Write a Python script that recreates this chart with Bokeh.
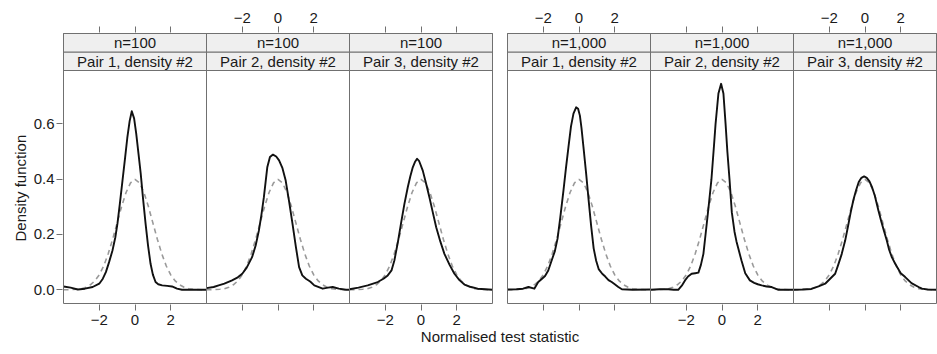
from bokeh.plotting import figure
from bokeh.models import Range1d, LinearAxis, FixedTicker, Title, PrintfTickFormatter
from bokeh.models import Label
from bokeh.embed import file_html
from bokeh.resources import INLINE

# ---------------- data ----------------
n_labels = ["n=100", "n=100", "n=100", "n=1,000", "n=1,000", "n=1,000"]
pair_labels = ["Pair 1, density #2", "Pair 2, density #2", "Pair 3, density #2",
               "Pair 1, density #2", "Pair 2, density #2", "Pair 3, density #2"]
x_tick_values = [-2, 0, 2]
x_tick_text = ["\u22122", "0", "2"]
y_tick_values = [0.0, 0.2, 0.4, 0.6]
top_labelled = [False, True, False, True, False, True]
bottom_labelled = [True, False, True, False, True, False]
x_axis_label = "Normalised test statistic"
y_axis_label = "Density function"

# dashed reference density (same in every panel)
ref_x = [-4.0, -3.75, -3.5, -3.25, -3.0, -2.75, -2.5, -2.25, -2.0, -1.75, -1.5, -1.25, -1.0,
         -0.75, -0.5, -0.25, 0.0, 0.25, 0.5, 0.75, 1.0, 1.25, 1.5, 1.75, 2.0, 2.25, 2.5,
         2.75, 3.0, 3.25, 3.5, 3.75, 4.0]
ref_y = [0.0, 0.0, 0.001, 0.002, 0.004, 0.009, 0.018, 0.032, 0.054, 0.086, 0.13, 0.183, 0.242,
         0.301, 0.352, 0.387, 0.399, 0.387, 0.352, 0.301, 0.242, 0.183, 0.13, 0.086, 0.054, 0.032,
         0.018, 0.009, 0.004, 0.002, 0.001, 0.0, 0.0]

# n=100, pair 1
p1_x = [-4.0, -3.6, -3.2, -2.8, -2.37, -2.0, -1.8, -1.63, -1.45, -1.26, -1.1, -0.98, -0.85, -0.7,
        -0.55, -0.43, -0.3, -0.18, -0.05, 0.07, 0.2, 0.32, 0.45, 0.59, 0.73, 0.87, 1.0, 1.15, 1.3,
        1.52, 1.8, 2.07, 2.35, 2.63, 3.0, 3.5, 4.0]
p1_y = [0.012, 0.008, 0.001, 0.004, 0.01, 0.022, 0.04, 0.064, 0.1, 0.142, 0.19, 0.24, 0.31, 0.395,
        0.48, 0.55, 0.61, 0.646, 0.62, 0.564, 0.49, 0.42, 0.33, 0.24, 0.16, 0.094, 0.055, 0.028, 0.02,
        0.016, 0.014, 0.012, 0.004, 0.0, 0.0, 0.0, 0.0]
# n=100, pair 2
p2_x = [-4.0, -3.6, -3.32, -3.0, -2.57, -2.25, -2.0, -1.75, -1.45, -1.25, -1.07, -0.93, -0.79, -0.6,
        -0.45, -0.28, -0.1, 0.06, 0.25, 0.43, 0.62, 0.81, 1.0, 1.18, 1.36, 1.56, 1.8, 2.03, 2.5, 2.8,
        3.06, 3.4, 3.8, 4.0]
p2_y = [0.006, 0.01, 0.016, 0.022, 0.034, 0.045, 0.058, 0.08, 0.118, 0.16, 0.214, 0.27, 0.335, 0.443,
        0.48, 0.489, 0.482, 0.468, 0.44, 0.395, 0.32, 0.239, 0.155, 0.082, 0.052, 0.04, 0.03, 0.016,
        0.004, 0.008, 0.01, 0.004, 0.0, 0.0]
# n=100, pair 3
p3_x = [-4.0, -3.5, -2.98, -2.42, -2.1, -1.86, -1.65, -1.49, -1.3, -1.12, -0.93, -0.74, -0.6, -0.46,
        -0.34, -0.22, -0.1, 0.1, 0.28, 0.47, 0.66, 0.85, 1.08, 1.31, 1.6, 1.87, 2.15, 2.43, 2.8, 3.17,
        3.6, 4.0]
p3_y = [0.002, 0.008, 0.016, 0.028, 0.04, 0.052, 0.07, 0.106, 0.17, 0.239, 0.31, 0.371, 0.41, 0.443,
        0.462, 0.474, 0.465, 0.431, 0.385, 0.335, 0.28, 0.226, 0.175, 0.13, 0.09, 0.058, 0.035, 0.019,
        0.01, 0.004, 0.002, 0.0]
# n=1,000, pair 1
p4_x = [-4.0, -3.5, -3.13, -2.83, -2.5, -2.28, -2.1, -1.9, -1.72, -1.53, -1.35, -1.2, -1.05, -0.87,
        -0.73, -0.59, -0.45, -0.31, -0.16, -0.05, 0.05, 0.14, 0.25, 0.4, 0.54, 0.68, 0.82, 0.96, 1.1,
        1.3, 1.47, 1.65, 1.83, 2.0, 2.2, 2.4, 3.0, 4.0]
p4_y = [0.001, 0.002, 0.004, 0.01, 0.004, 0.028, 0.038, 0.05, 0.07, 0.106, 0.14, 0.185, 0.26, 0.359,
        0.44, 0.516, 0.59, 0.637, 0.66, 0.655, 0.63, 0.585, 0.516, 0.42, 0.323, 0.23, 0.15, 0.105, 0.075,
        0.058, 0.048, 0.035, 0.028, 0.02, 0.01, 0.002, 0.0, 0.001]
# n=1,000, pair 2
p5_x = [-4.0, -3.5, -3.0, -2.7, -2.45, -2.25, -2.07, -1.9, -1.7, -1.5, -1.32, -1.18, -1.04, -0.92,
        -0.75, -0.59, -0.45, -0.36, -0.2, -0.05, 0.08, 0.2, 0.3, 0.42, 0.55, 0.7, 0.81, 0.95, 1.09,
        1.3, 1.56, 1.8, 2.0, 2.22, 2.5, 2.78, 3.16, 3.6, 4.0]
p5_y = [0.0, 0.002, 0.002, 0.0, 0.0, 0.015, 0.034, 0.048, 0.058, 0.06, 0.062, 0.09, 0.13, 0.2,
        0.3, 0.4, 0.52, 0.6, 0.71, 0.745, 0.71, 0.6, 0.5, 0.4, 0.28, 0.21, 0.175, 0.14, 0.106,
        0.06, 0.034, 0.025, 0.02, 0.016, 0.012, 0.01, 0.0, 0.0, 0.0]
# n=1,000, pair 3
p6_x = [-4.0, -3.5, -3.0, -2.6, -2.23, -1.95, -1.67, -1.5, -1.3, -1.11, -0.95, -0.8, -0.65, -0.5,
        -0.35, -0.2, -0.05, 0.1, 0.25, 0.4, 0.55, 0.75, 0.9, 1.05, 1.22, 1.35, 1.5, 1.69, 2.0, 2.25,
        2.6, 3.0, 3.19, 3.5, 4.0]
p6_y = [0.0, 0.001, 0.003, 0.012, 0.022, 0.04, 0.058, 0.09, 0.13, 0.178, 0.23, 0.28, 0.325, 0.36,
        0.39, 0.405, 0.41, 0.405, 0.392, 0.37, 0.34, 0.287, 0.25, 0.215, 0.178, 0.145, 0.118, 0.094,
        0.06, 0.046, 0.024, 0.01, 0.004, 0.001, 0.0]

panel_x = [p1_x, p2_x, p3_x, p4_x, p5_x, p6_x]
panel_y = [p1_y, p2_y, p3_y, p4_y, p5_y, p6_y]

# ---------------- layout / style ----------------
FONT = "Liberation Sans"
FS = "15px"
TEXT_C = "#1a1a1a"
BORDER_C = "#707070"
STRIP_FILL = "#efefef"
SOLID_C = "#111111"
DASH_C = "#9a9a9a"

PANEL_W = 143
GAP = 15
PAD = 1
X_LIM = (-4.0, 4.0)
Y_LIM = (-0.0496, 0.7932)
PANEL_H = 233
STRIP_H = 18.5
N_STRIPS = 2
BORDER_L, BORDER_T, BORDER_B = 62, 32, 50

px_x = PANEL_W / (X_LIM[1] - X_LIM[0])
px_y = PANEL_H / (Y_LIM[1] - Y_LIM[0])

lefts = []
pos = PAD
for k in range(6):
    lefts.append(pos)
    pos += PANEL_W + (GAP if k == 2 else 0)
frame_w = int(pos + PAD)
frame_h = int(round(PANEL_H + N_STRIPS * STRIP_H + 2 * PAD))

y_start = Y_LIM[0] - PAD / px_y
y_end = Y_LIM[1] + (N_STRIPS * STRIP_H + PAD) / px_y
strip_du = STRIP_H / px_y

p = figure(width=BORDER_L + frame_w, height=BORDER_T + frame_h + BORDER_B,
           x_range=Range1d(0, frame_w), y_range=Range1d(y_start, y_end),
           x_axis_type=None, y_axis_type=None,
           output_backend="svg", toolbar_location=None,
           min_border_left=BORDER_L, min_border_right=0,
           min_border_top=BORDER_T, min_border_bottom=BORDER_B)
p.outline_line_color = None
p.background_fill_color = "white"
p.border_fill_color = "white"

for k in range(6):
    s = X_LIM[0] - lefts[k] / px_x
    p.extra_x_ranges[f"p{k}"] = Range1d(s, s + frame_w / px_x)


def style_axis(ax, standoff):
    ax.axis_line_color = None
    ax.major_tick_line_color = BORDER_C
    ax.major_tick_in = 0
    ax.major_tick_out = 6
    ax.minor_tick_line_color = None
    ax.major_label_text_font = FONT
    ax.major_label_text_font_size = FS
    ax.major_label_text_color = TEXT_C
    ax.major_label_standoff = standoff
    ax.axis_label_text_font = FONT
    ax.axis_label_text_font_size = FS
    ax.axis_label_text_font_style = "normal"
    ax.axis_label_text_color = TEXT_C


tick_pos = []
top_over = {}
bot_over = {}
for k in range(6):
    for t, txt in zip(x_tick_values, x_tick_text):
        xp = lefts[k] + (t - X_LIM[0]) * px_x
        tick_pos.append(xp)
        top_over[xp] = txt if top_labelled[k] else ""
        bot_over[xp] = txt if bottom_labelled[k] else ""

bottom_axis = LinearAxis(ticker=FixedTicker(ticks=tick_pos, minor_ticks=[]),
                         major_label_overrides=bot_over)
style_axis(bottom_axis, 4)
bottom_axis.axis_label = x_axis_label
bottom_axis.axis_label_standoff = 0
p.add_layout(bottom_axis, "below")

top_axis = LinearAxis(ticker=FixedTicker(ticks=tick_pos, minor_ticks=[]),
                      major_label_overrides=top_over)
style_axis(top_axis, 4)
p.add_layout(top_axis, "above")

left_axis = LinearAxis(ticker=FixedTicker(ticks=y_tick_values, minor_ticks=[]),
                       formatter=PrintfTickFormatter(format="%.1f"))
style_axis(left_axis, 2)
p.add_layout(left_axis, "left")

# y-axis title, placed beside the panels' data region (below the strips)
p.add_layout(Title(text=y_axis_label, align="left", offset=63, standoff=4,
                   text_font=FONT, text_font_size=FS, text_font_style="normal",
                   text_color=TEXT_C), "left")

for k in range(6):
    name = f"p{k}"
    # dashed reference curve
    p.line(ref_x, ref_y, x_range_name=name, line_color=DASH_C, line_width=1.6,
           line_dash="5 4")
    # estimated density
    p.line(panel_x[k], panel_y[k], x_range_name=name, line_color=SOLID_C, line_width=1.9,
           line_join="round")
    # strips
    texts = [pair_labels[k], n_labels[k]]
    for j in range(N_STRIPS):
        b = Y_LIM[1] + j * strip_du
        p.quad(left=[X_LIM[0]], right=[X_LIM[1]], bottom=[b], top=[b + strip_du],
               x_range_name=name, fill_color=STRIP_FILL, line_color=BORDER_C, line_width=1)
        p.add_layout(Label(x=0, y=b + strip_du / 2, x_range_name=name, text=texts[j],
                           text_align="center", text_baseline="middle", text_font=FONT,
                           text_font_size=FS, text_color=TEXT_C))
    # panel border
    p.quad(left=[X_LIM[0]], right=[X_LIM[1]], bottom=[Y_LIM[0]],
           top=[Y_LIM[1] + N_STRIPS * strip_du], x_range_name=name,
           fill_color=None, line_color=BORDER_C, line_width=1)

open("out.html", "w").write(file_html(p, INLINE))
